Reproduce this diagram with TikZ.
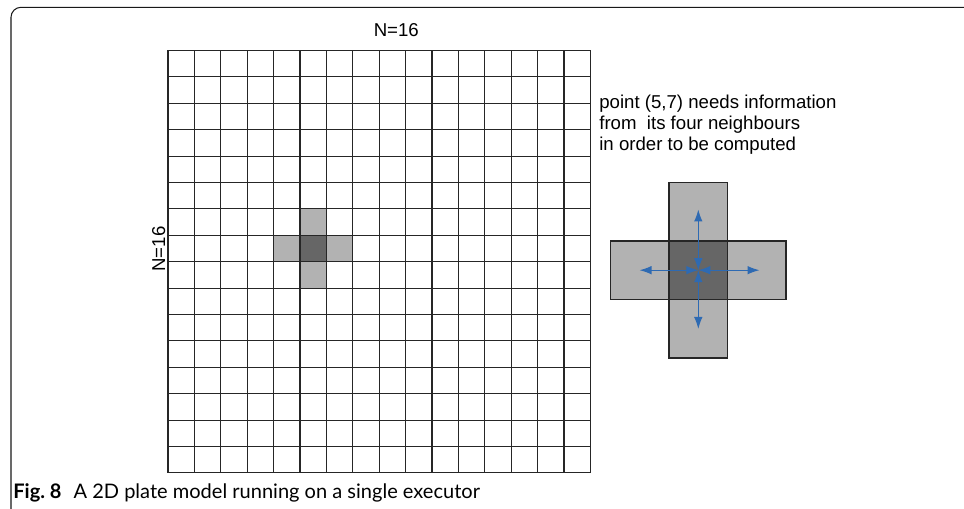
\documentclass[tikz,border=0pt]{standalone}
\usepackage{fontspec}
\setmainfont{Liberation Sans}
\newfontfamily\capfont{Lato}
\usetikzlibrary{arrows.meta}

\definecolor{cellgray}{RGB}{178,178,178}
\definecolor{celldark}{RGB}{102,102,102}
\definecolor{flowblue}{RGB}{46,106,178}

\begin{document}
\begin{tikzpicture}[x=0.02cm, y=-0.02cm,
    every node/.style={font=\fontsize{10.6}{11.95}\selectfont, inner sep=0pt},
    gridline/.style={line width=0.65pt, black!85},
    bigcell/.style={draw=black!85, line width=0.6pt},
    flow/.style={{Latex[length=0.24cm,width=0.17cm]}-{Latex[length=0.24cm,width=0.17cm]},
                 line width=0.6pt, flowblue}]
  % picture = 964 x 509 px, 1 px = 0.02 cm, y grows downward
  \useasboundingbox (0,0) rectangle (964,509);

  % -- frame of the figure box (rounded top-left corner)
  \draw[line width=0.6pt, black!90, rounded corners=0.2cm] (11,509) -- (11,7.3) -- (964,7.3);

  % -- the 16 x 16 plate: cell (c,r) has corner (168+26.4c, 50.5+26.4r)
  \def\gx{168}\def\gy{50.5}\def\gs{26.4}
  \foreach \c/\r in {5/6, 4/7, 6/7, 5/8}{
    \fill[cellgray] (\gx+\c*\gs,\gy+\r*\gs) rectangle ++(\gs,\gs); }
  \fill[celldark] (\gx+5*\gs,\gy+7*\gs) rectangle ++(\gs,\gs);
  \foreach \i in {0,...,16}{
    \draw[gridline] (\gx+\i*\gs,\gy) -- (\gx+\i*\gs,\gy+16*\gs);
    \draw[gridline] (\gx,\gy+\i*\gs) -- (\gx+16*\gs,\gy+\i*\gs); }

  \node[anchor=base] (ntop) at (396.3,36.7) {N=16};
  \node[anchor=base, rotate=90] (nleft) at (165,249) {N=16};

  % -- the remark (base = baseline of its last line)
  \node[anchor=base west, align=left] (remark) at (599,150.5)
    {point (5,7) needs information\\from\ \ its four neighbours\\in order to be computed};

  % -- enlarged stencil: centre cell and its four neighbours (58.5 px cells)
  \def\sx{669}\def\sy{241}\def\ss{58.5}
  \draw[bigcell, fill=cellgray] (\sx,\sy-\ss) rectangle ++(\ss,\ss);
  \draw[bigcell, fill=cellgray] (\sx-\ss,\sy) rectangle ++(\ss,\ss);
  \draw[bigcell, fill=cellgray] (\sx+\ss,\sy) rectangle ++(\ss,\ss);
  \draw[bigcell, fill=cellgray] (\sx,\sy+\ss) rectangle ++(\ss,\ss);
  \draw[bigcell, fill=celldark] (\sx,\sy) rectangle ++(\ss,\ss);

  \coordinate (ctr) at (698.3,270.2);
  \coordinate (up) at (698.3,209.5);
  \coordinate (down) at (698.3,329);
  \coordinate (left) at (639.5,270.2);
  \coordinate (right) at (759.5,270.2);
  \foreach \nb in {up,down,left,right}{
    \draw[flow] (ctr) -- (\nb); }

  % -- caption
  \node[anchor=base west, font=\capfont\fontsize{11.4}{13}\selectfont] (caption) at (13,499)
    {\textbf{Fig.~8}\hspace{0.6em}A 2D plate model running on a single executor};
\end{tikzpicture}
\end{document}
